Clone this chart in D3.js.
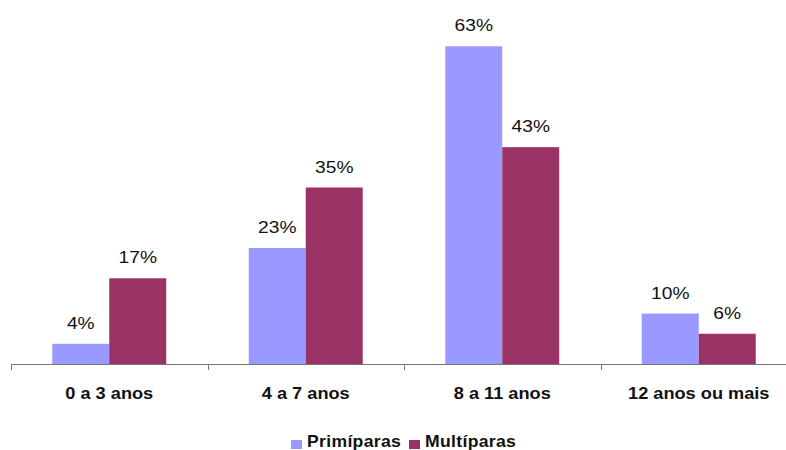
<!DOCTYPE html>
<html>
<head>
<meta charset="utf-8">
<script src="https://cdn.jsdelivr.net/npm/d3@7/dist/d3.min.js"></script>
<style>
  html, body { margin: 0; padding: 0; background: #fff; }
  svg { display: block; font-family: "Liberation Sans", Arial, sans-serif; }
</style>
</head>
<body>
<svg id="chart" width="786" height="450"></svg>
<script>
// Escolaridade materna por paridade (%)
const categories = ["0 a 3 anos", "4 a 7 anos", "8 a 11 anos", "12 anos ou mais"];
const seriesNames = ["Primíparas", "Multíparas"];
const primiparas = [4, 23, 63, 10];
const multiparas = [17, 35, 43, 6];
const seriesColors = ["#9999FF", "#993366"];

const seriesValues = [primiparas, multiparas];
const rows = categories.map((c, i) => ({
  category: c,
  values: seriesNames.map((s, j) => ({ series: s, value: seriesValues[j][i], color: seriesColors[j] }))
}));

const svg = d3.select("#chart");

const x = d3.scaleBand().domain(categories).range([11, 797]).paddingInner(0).paddingOuter(0);
const bw = x.bandwidth();
const xs = d3.scaleBand().domain(seriesNames).range([bw * 0.21, bw * 0.79]).padding(0);
const y = d3.scaleLinear().domain([0, 70]).range([364, 11]);

// Bars and value labels
const groups = svg.append("g").selectAll("g")
  .data(rows).join("g")
  .attr("transform", d => `translate(${x(d.category)},0)`);

groups.selectAll("rect")
  .data(d => d.values).join("rect")
  .attr("x", d => xs(d.series))
  .attr("y", d => y(d.value))
  .attr("width", xs.bandwidth())
  .attr("height", d => y(0) - y(d.value))
  .attr("fill", d => d.color);

groups.selectAll("text.val")
  .data(d => d.values).join("text")
  .attr("class", "val")
  .attr("text-anchor", "middle")
  .attr("transform", d => `translate(${xs(d.series) + xs.bandwidth() / 2},${y(d.value) - 15}) scale(1.2,1)`)
  .attr("font-size", 16)
  .attr("fill", "#111")
  .text(d => d.value + "%");

// Category axis
const axis = svg.append("g").attr("transform", `translate(0,${y(0)})`)
  .call(d3.axisBottom(x).tickSize(0).tickFormat(""));
axis.select(".domain").attr("stroke", "#777").attr("d", `M11,0.5H786`);
axis.selectAll(".tick").remove();

svg.append("g").selectAll("line")
  .data(categories).join("line")
  .attr("x1", d => Math.round(x(d)) + 0.5)
  .attr("x2", d => Math.round(x(d)) + 0.5)
  .attr("y1", y(0))
  .attr("y2", y(0) + 6)
  .attr("stroke", "#777");

svg.append("g").selectAll("text")
  .data(categories).join("text")
  .attr("text-anchor", "middle")
  .attr("transform", d => `translate(${x(d) + bw / 2},399) scale(1.07,1)`)
  .attr("font-size", 17)
  .attr("font-weight", "bold")
  .attr("fill", "#111")
  .text(d => d);

// Legend
const legendItems = [
  { name: seriesNames[0], color: seriesColors[0], x: 291 },
  { name: seriesNames[1], color: seriesColors[1], x: 409 }
];
const lg = svg.append("g").selectAll("g").data(legendItems).join("g")
  .attr("transform", d => `translate(${d.x},0)`);
lg.append("rect").attr("x", 0).attr("y", 440).attr("width", 11).attr("height", 9).attr("fill", d => d.color);
lg.append("text")
  .attr("transform", "translate(16,447) scale(1.1,1)")
  .attr("font-size", 16)
  .attr("font-weight", "bold")
  .attr("letter-spacing", 0.3)
  .attr("fill", "#111")
  .text(d => d.name);
</script>
</body>
</html>
